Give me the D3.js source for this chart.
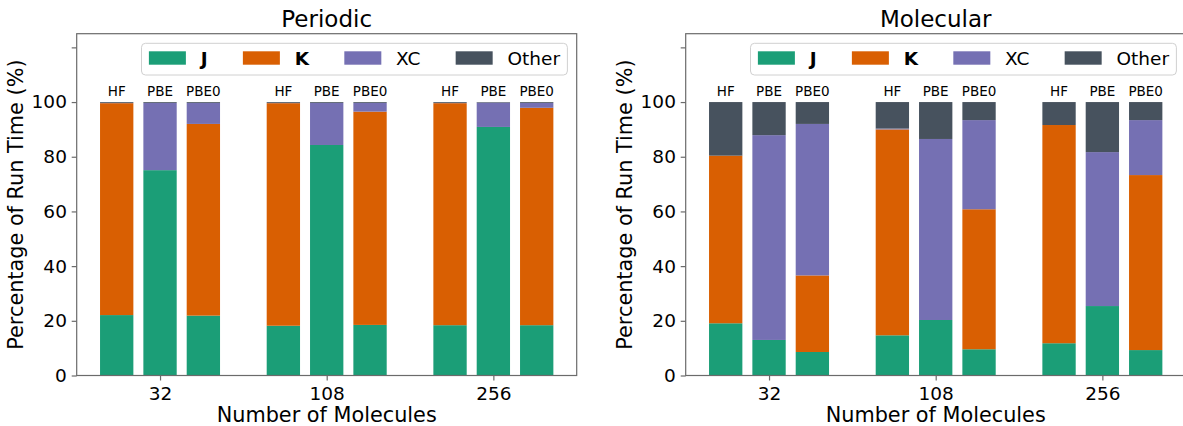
<!DOCTYPE html>
<html>
<head>
<meta charset="utf-8">
<script src="https://cdn.jsdelivr.net/npm/d3@7"></script>
<style>
    body { margin: 0; background: white; }
    svg { display: block; font-family: "DejaVu Sans", sans-serif; }
    .spine { fill: none; stroke: #6b6b6b; stroke-width: 1.2; }
    .axis path { display: none; }
    .axis line { stroke: #6b6b6b; stroke-width: 1.2; }
    .axis text { font-family: "DejaVu Sans", sans-serif; fill: black; }
</style>
</head>
<body>
<svg id="chart" width="1183" height="426"></svg>
<script>
// groups on the x axis and the three methods inside each group
const sizes = ["32", "108", "256"];
const methods = ["HF", "PBE", "PBE0"];
const parts = ["J", "K", "XC", "Other"];
const partColors = ["#1b9e77", "#d95f02", "#7570b3", "#47525e"];
const yTicks = [0, 20, 40, 60, 80, 100, 120];
const yTickLabels = ["0", "20", "40", "60", "80", "100", ""];

// percentages, ordered 32 HF, 32 PBE, 32 PBE0, 108 HF, ... 256 PBE0
const periodicJ = [22.1, 75.1, 21.9, 18.2, 84.3, 18.5, 18.4, 90.9, 18.4];
const periodicK = [77.5, 0, 70.1, 81.4, 0, 78.0, 81.2, 0, 79.5];
const periodicXC = [0.1, 24.6, 7.7, 0.1, 15.4, 3.2, 0.1, 8.9, 1.8];
const periodicOther = [0.3, 0.3, 0.3, 0.3, 0.3, 0.3, 0.3, 0.2, 0.3];

const molecularJ = [19.1, 13.0, 8.6, 14.7, 20.3, 9.6, 11.8, 25.4, 9.3];
const molecularK = [61.3, 0, 28.0, 75.3, 0, 51.2, 79.8, 0, 64.0];
const molecularXC = [0, 74.9, 55.4, 0.3, 66.2, 32.6, 0, 56.3, 20.1];
const molecularOther = [19.6, 12.1, 8.0, 9.7, 13.5, 6.6, 8.4, 18.3, 6.6];

let svg = d3.select("#chart");

// builds rows of {group, method, J, K, XC, Other} for d3.stack
function buildRows(j, k, xc, other) {
    let rows = [];
    for (let i = 0; i < j.length; i++) {
        rows.push({
            group: Math.floor(i / methods.length),
            method: i % methods.length,
            J: j[i], K: k[i], XC: xc[i], Other: other[i]
        });
    }
    return rows;
}

function drawPanel(opts) {
    let g = svg.append("g");
    let xScale = d3.scaleLinear().domain([-0.5, 2.5]).range([opts.left, opts.left + 500]);
    let yScale = d3.scaleLinear().domain([0, 125]).range([375.5, 33.7]);
    let barW = 0.2, offset = 0.26;

    let stack = d3.stack().keys(parts)(opts.rows);
    let colorScale = d3.scaleOrdinal().domain(parts).range(partColors);

    // stacked bars
    g.selectAll(".layer")
        .data(stack)
        .enter()
        .append("g")
        .attr("class", "layer")
        .attr("fill", (d) => colorScale(d.key))
        .selectAll("rect")
        .data((d) => d)
        .enter()
        .append("rect")
        .attr("x", (d) => xScale(d.data.group + (d.data.method - 1) * offset - barW / 2))
        .attr("width", (d) => xScale(barW) - xScale(0))
        .attr("y", (d) => yScale(d[1]))
        .attr("height", (d) => yScale(d[0]) - yScale(d[1]));

    // method labels above each bar
    g.selectAll(".method")
        .data(opts.rows)
        .enter()
        .append("text")
        .attr("x", (d) => xScale(d.group + (d.method - 1) * offset))
        .attr("y", yScale(100) - 5.6)
        .attr("text-anchor", "middle")
        .style("font-size", "13.5px")
        .text((d) => methods[d.method]);

    // axes
    let yAxis = d3.axisLeft(yScale)
        .tickValues(yTicks)
        .tickSize(5)
        .tickPadding(4.8)
        .tickFormat((d, i) => yTickLabels[i]);
    g.append("g")
        .attr("class", "y axis")
        .attr("transform", "translate(" + opts.left + ",0)")
        .call(yAxis)
        .selectAll("text").style("font-size", "18.5px");

    let xAxis = d3.axisBottom(xScale)
        .tickValues([0, 1, 2])
        .tickSize(5)
        .tickPadding(6)
        .tickFormat((d) => sizes[d]);
    g.append("g")
        .attr("class", "x axis")
        .attr("transform", "translate(0,375.5)")
        .call(xAxis)
        .selectAll("text").style("font-size", "18.5px");

    // frame
    g.append("rect")
        .attr("class", "spine")
        .attr("x", opts.left)
        .attr("y", yScale(125))
        .attr("width", 500)
        .attr("height", yScale(0) - yScale(125));

    // titles
    g.append("text")
        .attr("x", opts.left + 250)
        .attr("y", 26.7)
        .attr("text-anchor", "middle")
        .style("font-size", "23px")
        .text(opts.title);
    g.append("text")
        .attr("x", opts.left + 250)
        .attr("y", 422)
        .attr("text-anchor", "middle")
        .style("font-size", "20.8px")
        .text("Number of Molecules");
    g.append("text")
        .attr("text-anchor", "middle")
        .attr("transform", "translate(" + (opts.left - 54) + ",204.6) rotate(-90)")
        .style("font-size", "20.8px")
        .text("Percentage of Run Time (%)");

    drawLegend(g, opts.left + 500 - 9.3, yScale(125) + 9.6);
}

// legend in one row, anchored at its upper right corner
function drawLegend(g, right, top) {
    let fs = 18.5;
    let colSpace = 2 * fs - 1.7;
    let box = g.append("rect");
    let items = g.append("g");
    let x = 0;
    parts.forEach((p, i) => {
        items.append("rect")
            .attr("x", x)
            .attr("y", top + 8)
            .attr("width", 2 * fs)
            .attr("height", 13.4)
            .attr("fill", partColors[i]);
        let t = items.append("text")
            .attr("x", x + 2.8 * fs)
            .attr("y", top + 21.6)
            .style("font-size", fs + "px")
            .style("font-weight", (p == "J" || p == "K") ? "bold" : "normal")
            .text(p);
        x += 2.8 * fs + t.node().getComputedTextLength() + colSpace;
    });
    let width = x - colSpace + 2 * 0.4 * fs;
    let left = right - width;
    items.attr("transform", "translate(" + (left + 0.4 * fs) + ",0)");
    box.attr("x", left)
        .attr("y", top)
        .attr("width", width)
        .attr("height", 31.7)
        .attr("rx", 4)
        .attr("fill", "white")
        .attr("fill-opacity", 0.8)
        .attr("stroke", "#d0d0d0")
        .attr("stroke-width", 1);
}

drawPanel({
    title: "Periodic",
    left: 76.7,
    rows: buildRows(periodicJ, periodicK, periodicXC, periodicOther)
});
drawPanel({
    title: "Molecular",
    left: 685.7,
    rows: buildRows(molecularJ, molecularK, molecularXC, molecularOther)
});
</script>
</body>
</html>
